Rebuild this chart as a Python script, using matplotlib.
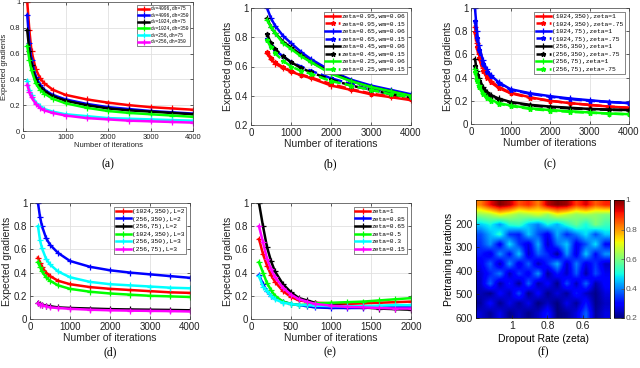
import numpy as np
import matplotlib
matplotlib.use('Agg')
import matplotlib.pyplot as plt

plt.rcParams['font.family'] = 'Liberation Sans'

# ---------------- dados ----------------
# (a)
xa = [100, 150, 200, 300, 400, 500, 700, 1000, 1500, 2000, 2500, 3000, 3500, 4000]
a_labels = ['dv=4096,dh=75', 'dv=4096,dh=350', 'dv=1024,dh=75',
            'dv=1024,dh=350', 'dv=256,dh=75', 'dv=256,dh=350']
a_colors = ['red', 'blue', 'black', '#00ff00', 'cyan', 'magenta']
a_red = [1.0, 0.78, 0.62, 0.48, 0.41, 0.37, 0.32, 0.28, 0.245, 0.22, 0.2, 0.185, 0.175, 0.165]
a_blue = [0.9, 0.68, 0.55, 0.42, 0.36, 0.32, 0.28, 0.245, 0.21, 0.185, 0.17, 0.155, 0.145, 0.135]
a_black = [0.78, 0.62, 0.51, 0.4, 0.34, 0.31, 0.27, 0.235, 0.2, 0.175, 0.16, 0.15, 0.14, 0.13]
a_green = [0.66, 0.55, 0.47, 0.37, 0.32, 0.29, 0.25, 0.215, 0.18, 0.155, 0.14, 0.13, 0.12, 0.11]
a_cyan = [0.39, 0.32, 0.28, 0.22, 0.19, 0.17, 0.15, 0.13, 0.115, 0.1, 0.095, 0.09, 0.085, 0.08]
a_magenta = [0.36, 0.3, 0.26, 0.21, 0.18, 0.16, 0.14, 0.12, 0.1, 0.09, 0.08, 0.075, 0.07, 0.065]

# (b)
xb = [400, 500, 600, 800, 1000, 1250, 1500, 2000, 2500, 3000, 3500, 4000]
b_labels = ['zeta=0.95,wm=0.06', 'zeta=0.95,wm=0.15', 'zeta=0.65,wm=0.06', 'zeta=0.65,wm=0.15',
            'zeta=0.45,wm=0.06', 'zeta=0.45,wm=0.15', 'zeta=0.25,wm=0.06', 'zeta=0.25,wm=0.15']
b_red_s = [0.69, 0.65, 0.62, 0.59, 0.565, 0.54, 0.52, 0.47, 0.44, 0.41, 0.39, 0.37]
b_red_d = [0.70, 0.66, 0.63, 0.595, 0.57, 0.545, 0.525, 0.48, 0.445, 0.415, 0.395, 0.375]
b_blue_s = [1.0, 0.93, 0.88, 0.81, 0.76, 0.70, 0.65, 0.57, 0.51, 0.47, 0.44, 0.41]
b_blue_d = [0.79, 0.74, 0.71, 0.67, 0.63, 0.6, 0.57, 0.52, 0.48, 0.44, 0.42, 0.40]
b_black_s = [0.93, 0.87, 0.83, 0.77, 0.73, 0.68, 0.63, 0.56, 0.5, 0.46, 0.43, 0.40]
b_black_d = [0.82, 0.76, 0.72, 0.67, 0.63, 0.59, 0.56, 0.51, 0.47, 0.44, 0.41, 0.39]
b_green_s = [0.92, 0.87, 0.83, 0.76, 0.72, 0.67, 0.63, 0.55, 0.5, 0.46, 0.43, 0.40]
b_green_d = [0.78, 0.73, 0.69, 0.64, 0.6, 0.57, 0.55, 0.5, 0.47, 0.44, 0.41, 0.39]

# (c)
xc = [100, 150, 200, 300, 400, 500, 700, 1000, 1500, 2000, 2500, 3000, 3500, 4000]
c_labels = ['(1024,350),zeta=1', '(1024,350),zeta=.75', '(1024,75),zeta=1', '(1024,75),zeta=.75',
            '(256,350),zeta=1', '(256,350),zeta=.75', '(256,75),zeta=1', '(256,75),zeta=.75']
c_red_s = [0.84, 0.7, 0.6, 0.48, 0.42, 0.37, 0.32, 0.27, 0.23, 0.2, 0.18, 0.165, 0.15, 0.14]
c_red_d = [0.79, 0.66, 0.57, 0.46, 0.4, 0.36, 0.31, 0.265, 0.225, 0.2, 0.18, 0.165, 0.15, 0.14]
c_blue_s = [1.0, 0.8, 0.68, 0.55, 0.47, 0.42, 0.36, 0.30, 0.265, 0.24, 0.22, 0.205, 0.19, 0.18]
c_blue_d = [0.89, 0.74, 0.64, 0.52, 0.45, 0.41, 0.35, 0.295, 0.26, 0.235, 0.215, 0.2, 0.19, 0.18]
c_black_s = [0.56, 0.46, 0.4, 0.32, 0.28, 0.25, 0.22, 0.19, 0.165, 0.15, 0.14, 0.13, 0.125, 0.12]
c_black_d = [0.5, 0.42, 0.37, 0.3, 0.26, 0.24, 0.21, 0.185, 0.16, 0.145, 0.135, 0.128, 0.122, 0.118]
c_green_s = [0.47, 0.39, 0.34, 0.27, 0.23, 0.21, 0.18, 0.16, 0.135, 0.12, 0.11, 0.1, 0.09, 0.085]
c_green_d = [0.45, 0.37, 0.32, 0.26, 0.22, 0.2, 0.175, 0.155, 0.13, 0.115, 0.105, 0.097, 0.09, 0.083]

# (d)
xd = [200, 250, 300, 400, 500, 700, 1000, 1500, 2000, 2500, 3000, 3500, 4000]
d_labels = ['(1024,350),L=2', '(256,350),L=2', '(256,75),L=2',
            '(1024,350),L=3', '(256,350),L=3', '(256,75),L=3']
d_red = [0.53, 0.48, 0.45, 0.4, 0.37, 0.33, 0.3, 0.275, 0.26, 0.25, 0.24, 0.23, 0.225]
d_blue = [1.0, 0.88, 0.8, 0.7, 0.64, 0.57, 0.5, 0.45, 0.42, 0.4, 0.385, 0.37, 0.355]
d_black = [0.14, 0.13, 0.125, 0.115, 0.11, 0.1, 0.095, 0.09, 0.085, 0.082, 0.08, 0.078, 0.075]
d_green = [0.49, 0.45, 0.41, 0.36, 0.33, 0.29, 0.26, 0.235, 0.22, 0.21, 0.2, 0.195, 0.19]
d_cyan = [0.8, 0.68, 0.61, 0.52, 0.47, 0.41, 0.36, 0.32, 0.3, 0.29, 0.28, 0.27, 0.265]
d_magenta = [0.135, 0.125, 0.12, 0.11, 0.1, 0.095, 0.088, 0.08, 0.075, 0.072, 0.07, 0.068, 0.065]

# (e)
xe = [100, 150, 200, 250, 300, 400, 500, 600, 700, 800, 1000, 1200, 1400, 1600, 1800, 2000]
e_labels = ['zeta=1', 'zeta=0.85', 'zeta=0.65', 'zeta=0.5', 'zeta=0.3', 'zeta=0.15']
e_red = [0.69, 0.56, 0.46, 0.38, 0.32, 0.24, 0.19, 0.16, 0.15, 0.14, 0.135, 0.13, 0.135, 0.14, 0.145, 0.15]
e_blue = [0.38, 0.3, 0.24, 0.2, 0.18, 0.15, 0.13, 0.12, 0.11, 0.1, 0.095, 0.095, 0.095, 0.1, 0.1, 0.1]
e_black = [1.0, 0.8, 0.62, 0.5, 0.41, 0.3, 0.23, 0.18, 0.16, 0.14, 0.12, 0.11, 0.1, 0.09, 0.085, 0.08]
e_green = [0.49, 0.4, 0.31, 0.25, 0.2, 0.15, 0.13, 0.12, 0.125, 0.135, 0.14, 0.145, 0.15, 0.16, 0.17, 0.18]
e_cyan = [0.37, 0.28, 0.24, 0.2, 0.17, 0.14, 0.13, 0.12, 0.12, 0.115, 0.11, 0.11, 0.11, 0.115, 0.12, 0.12]
e_magenta = [0.8, 0.66, 0.52, 0.43, 0.36, 0.27, 0.21, 0.17, 0.15, 0.13, 0.115, 0.105, 0.1, 0.095, 0.09, 0.09]

# (f) mapa de calor: linhas = iterações de pré-treino (100 a 600), colunas = zeta (1.2 a 0.45)
f_heat = [
    [0.82, 0.92, 1.00, 0.96, 0.86, 0.90, 0.82, 0.96, 1.00, 0.98, 0.88, 0.94, 0.85, 0.90],
    [0.62, 0.64, 0.70, 0.66, 0.62, 0.64, 0.68, 0.62, 0.70, 0.66, 0.62, 0.64, 0.62, 0.60],
    [0.46, 0.50, 0.42, 0.52, 0.54, 0.45, 0.40, 0.50, 0.44, 0.52, 0.58, 0.50, 0.60, 0.54],
    [0.36, 0.44, 0.52, 0.34, 0.32, 0.46, 0.36, 0.28, 0.44, 0.33, 0.40, 0.48, 0.36, 0.46],
    [0.34, 0.42, 0.28, 0.48, 0.34, 0.27, 0.44, 0.25, 0.38, 0.46, 0.28, 0.36, 0.48, 0.30],
    [0.32, 0.27, 0.42, 0.30, 0.46, 0.25, 0.38, 0.33, 0.22, 0.42, 0.27, 0.46, 0.30, 0.42],
    [0.28, 0.38, 0.24, 0.42, 0.27, 0.38, 0.24, 0.33, 0.44, 0.25, 0.40, 0.27, 0.34, 0.25],
    [0.26, 0.32, 0.40, 0.24, 0.35, 0.28, 0.42, 0.22, 0.32, 0.25, 0.37, 0.23, 0.36, 0.28],
    [0.25, 0.38, 0.23, 0.32, 0.22, 0.38, 0.23, 0.30, 0.21, 0.36, 0.24, 0.38, 0.23, 0.30],
    [0.24, 0.21, 0.30, 0.24, 0.36, 0.21, 0.30, 0.21, 0.27, 0.22, 0.32, 0.25, 0.21, 0.27],
    [0.22, 0.30, 0.21, 0.28, 0.22, 0.28, 0.20, 0.25, 0.20, 0.28, 0.22, 0.32, 0.21, 0.25],
    [0.26, 0.22, 0.28, 0.21, 0.25, 0.21, 0.25, 0.32, 0.20, 0.22, 0.27, 0.38, 0.22, 0.27],
]

GREEN = '#00ff00'
W, H = 640, 368

fig = plt.figure(figsize=(6.4, 3.68), dpi=100)


def eixo(l, t, r, b):
    return fig.add_axes([l / W, 1 - b / H, (r - l) / W, (b - t) / H])


def estilo(ax, fs=7):
    ax.grid(True, color='#e0e0e0', lw=0.6)
    ax.set_axisbelow(True)
    ax.tick_params(direction='in', length=2, width=0.5, labelsize=fs, pad=2,
                   top=True, right=True, colors='#222222')
    for s in ax.spines.values():
        s.set_linewidth(0.5)
        s.set_color('#444444')


def legenda(ax, fs=4.5):
    leg = ax.legend(loc='upper right', prop={'family': 'Liberation Mono', 'size': fs},
                    fancybox=False, edgecolor='#555555', framealpha=1,
                    handlelength=2.4, handletextpad=0.2, labelspacing=0.35,
                    borderpad=0.3, borderaxespad=0.6)
    leg.get_frame().set_linewidth(0.5)


def curva(ax, x, y, cor, rot, tracejada=False):
    if tracejada:
        ax.plot(x, y, '--', color=cor, marker='*', ms=3.5, lw=1.8, label=rot)
    else:
        ax.plot(x, y, '-', color=cor, marker='+', ms=4, mew=0.9, lw=1.8, label=rot)


def eixos_iter(ax, xmax, xt, y0=0, fs=7, lfs=7.5):
    ax.set_xlim(0, xmax)
    ax.set_ylim(y0, 1)
    ax.set_xticks(xt)
    yt = [v for v in [0, 0.2, 0.4, 0.6, 0.8, 1] if v >= y0]
    ax.set_yticks(yt)
    ax.set_yticklabels(['%g' % v for v in yt])
    estilo(ax, fs=fs)
    ax.set_xlabel('Number of iterations', fontsize=lfs, labelpad=1, color='#222222')
    ax.set_ylabel('Expected gradients', fontsize=lfs, labelpad=1, color='#222222')


# (a)
ax1 = eixo(23, 2, 193, 131)
for y, c, l in zip([a_red, a_blue, a_black, a_green, a_cyan, a_magenta], a_colors, a_labels):
    curva(ax1, xa, y, c, l)
eixos_iter(ax1, 4000, [0, 1000, 2000, 3000, 4000], fs=5.5, lfs=5.5)
legenda(ax1, fs=3.3)

# (b)
ax2 = eixo(251, 8, 411, 125)
curva(ax2, xb, b_red_s, 'red', b_labels[0])
curva(ax2, xb, b_red_d, 'red', b_labels[1], True)
curva(ax2, xb, b_blue_s, 'blue', b_labels[2])
curva(ax2, xb, b_blue_d, 'blue', b_labels[3], True)
curva(ax2, xb, b_black_s, 'black', b_labels[4])
curva(ax2, xb, b_black_d, 'black', b_labels[5], True)
curva(ax2, xb, b_green_s, GREEN, b_labels[6])
curva(ax2, xb, b_green_d, GREEN, b_labels[7], True)
eixos_iter(ax2, 4000, [0, 1000, 2000, 3000, 4000], y0=0.2)
legenda(ax2)

# (c)
ax3 = eixo(471, 8, 629, 124)
curva(ax3, xc, c_red_s, 'red', c_labels[0])
curva(ax3, xc, c_red_d, 'red', c_labels[1], True)
curva(ax3, xc, c_blue_s, 'blue', c_labels[2])
curva(ax3, xc, c_blue_d, 'blue', c_labels[3], True)
curva(ax3, xc, c_black_s, 'black', c_labels[4])
curva(ax3, xc, c_black_d, 'black', c_labels[5], True)
curva(ax3, xc, c_green_s, GREEN, c_labels[6])
curva(ax3, xc, c_green_d, GREEN, c_labels[7], True)
eixos_iter(ax3, 4000, [0, 1000, 2000, 3000, 4000])
legenda(ax3)

# (d)
ax4 = eixo(30, 203, 190, 319)
d_series = [d_red, d_blue, d_black, d_green, d_cyan, d_magenta]
for y, c, l in zip(d_series, ['red', 'blue', 'black', GREEN, 'cyan', 'magenta'], d_labels):
    curva(ax4, xd, y, c, l)
eixos_iter(ax4, 4000, [0, 1000, 2000, 3000, 4000])
legenda(ax4)

# (e)
ax5 = eixo(251, 203, 411, 319)
e_series = [e_red, e_blue, e_black, e_green, e_cyan, e_magenta]
for y, c, l in zip(e_series, ['red', 'blue', 'black', GREEN, 'cyan', 'magenta'], e_labels):
    curva(ax5, xe, y, c, l)
eixos_iter(ax5, 2000, [0, 500, 1000, 1500, 2000])
legenda(ax5)

# (f)
ax6 = eixo(476, 200, 610, 318)
im = ax6.imshow(np.array(f_heat), cmap='jet', vmin=0.2, vmax=1, aspect='auto',
                interpolation='bilinear', interpolation_stage='data',
                extent=[1.2, 0.45, 600, 100])
ax6.set_xticks([1, 0.8, 0.6])
ax6.set_xticklabels(['1', '0.8', '0.6'])
ax6.set_yticks([200, 300, 400, 500, 600])
ax6.tick_params(direction='in', length=2, width=0.5, labelsize=7.5, pad=2, colors='#222222')
for s in ax6.spines.values():
    s.set_linewidth(0.5)
ax6.set_xlabel('Dropout Rate (zeta)', fontsize=7.5, labelpad=2)
ax6.set_ylabel('Pretraning iterations', fontsize=7.5, labelpad=1)
cax = eixo(614, 200, 624, 318)
cb = fig.colorbar(im, cax=cax, ticks=[0.2, 0.4, 0.6, 0.8, 1])
cb.ax.set_yticklabels(['0.2', '0.4', '0.6', '0.8', '1'])
cb.ax.tick_params(labelsize=6, length=2, width=0.5, pad=1, direction='in', colors='#555555')
cb.outline.set_linewidth(0.5)

# legendas (a)-(f)
for x, y, t in [(108, 164, '(a)'), (330, 164, '(b)'), (550, 164, '(c)'),
                (110, 352, '(d)'), (330, 352, '(e)'), (543, 352, '(f)')]:
    fig.text(x / W, 1 - y / H, t, ha='center', va='center', fontsize=8.5,
             family='Liberation Serif')

fig.savefig('out.png', dpi=100)
